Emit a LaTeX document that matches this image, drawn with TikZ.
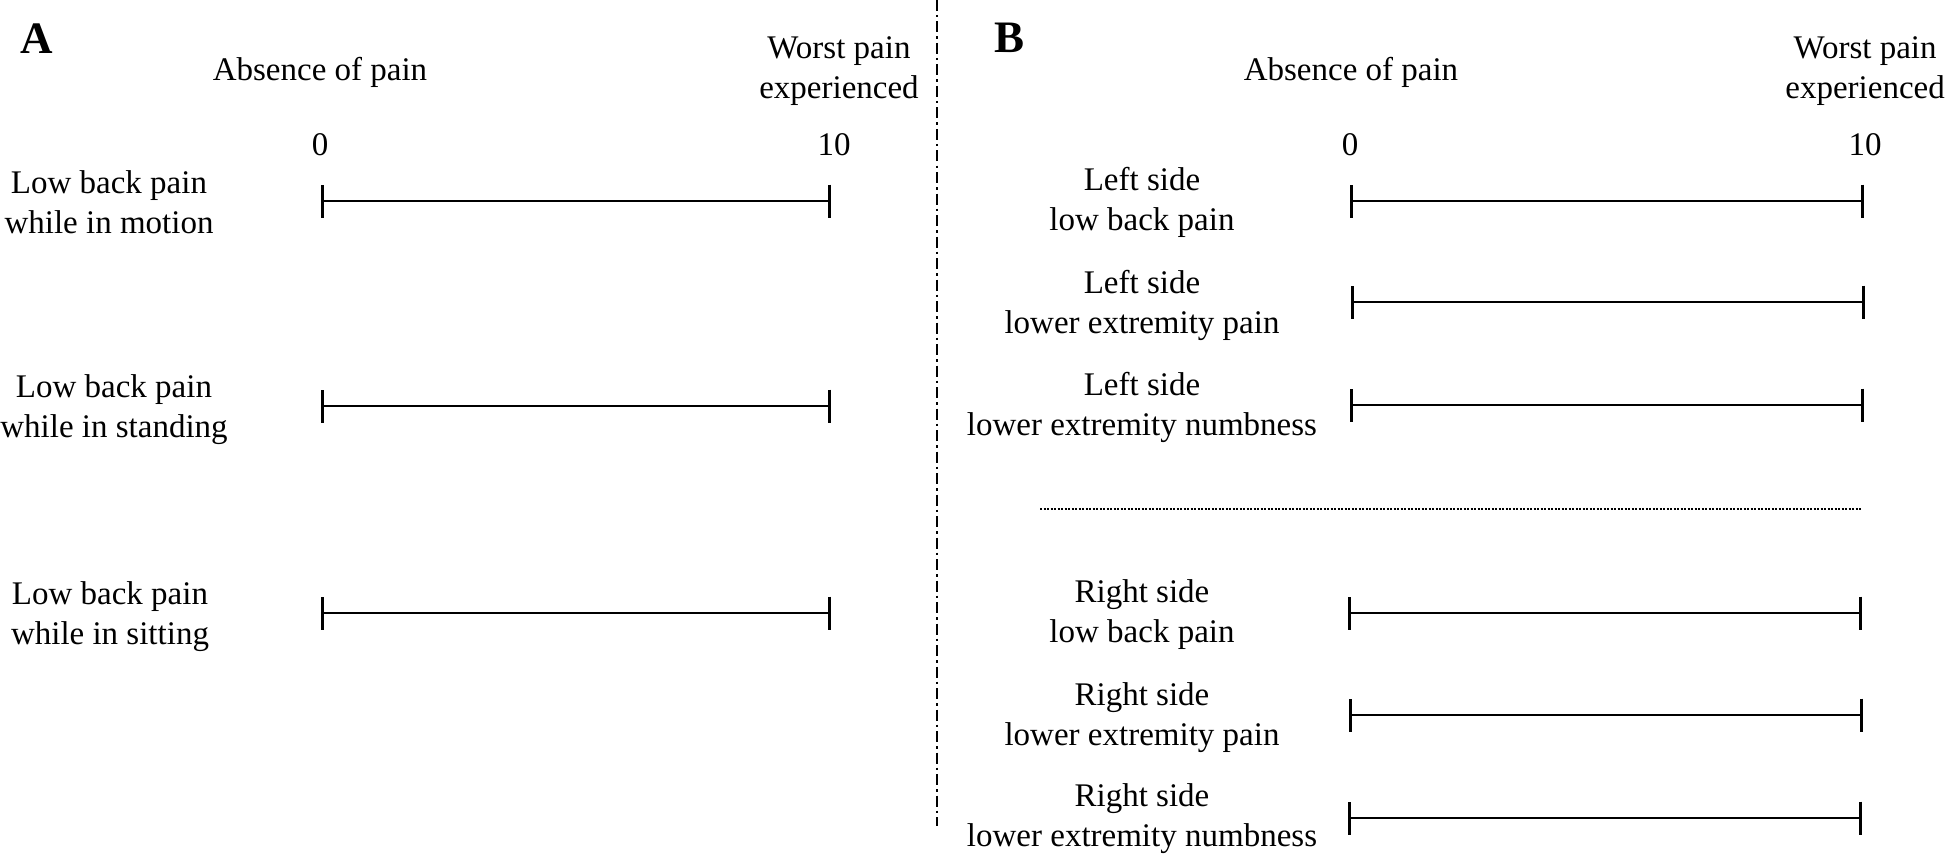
\documentclass[tikz,border=0pt]{standalone}
\usepackage{fontspec}
\setmainfont{Liberation Serif}
\usetikzlibrary{arrows.meta}
\begin{document}
\begin{tikzpicture}[x=1pt,y=-1pt,
  txt/.style={font=\fontsize{33}{40}\selectfont, align=center, inner sep=0pt},
  panel/.style={font=\fontsize{45}{45}\selectfont\bfseries, inner sep=0pt},
  vas/.style={line width=2.7pt, {Bar[width=33pt,line width=2.6pt]}-{Bar[width=33pt,line width=2.6pt]}},
  divider/.style={line width=2.3pt, dash pattern=on 11pt off 4pt on 2.5pt off 4pt},
  sep/.style={line width=1.4pt, dash pattern=on 2pt off 1.5pt}]
\useasboundingbox (0,0) rectangle (1946,856);
% panel A
\node[panel] (A) at (37,39) {A};
\node[txt] (absA) at (320,72) {Absence of pain};
\node[txt] (worstA) at (839,71) {Worst pain\\experienced};
\node[txt] (zeroA) at (320,145) {0};
\node[txt] (tenA) at (834,145) {10};
\node[txt] (a1) at (109,202) {Low back pain\\while in motion};
\node[txt] (a2) at (114,410) {Low back pain\\while in standing};
\node[txt] (a3) at (110,617) {Low back pain\\while in sitting};
\coordinate (a1l) at (321,201); \coordinate (a1r) at (831,201);
\coordinate (a2l) at (321,406); \coordinate (a2r) at (831,406);
\coordinate (a3l) at (321,613); \coordinate (a3r) at (831,613);
\draw[vas] (a1l) -- (a1r);
\draw[vas] (a2l) -- (a2r);
\draw[vas] (a3l) -- (a3r);
% divider
\coordinate (dtop) at (937,0); \coordinate (dbot) at (937,826);
\draw[divider] (dtop) -- (dbot);
% panel B
\node[panel] (B) at (1009,38) {B};
\node[txt] (absB) at (1351,72) {Absence of pain};
\node[txt, anchor=east] (worstB) at (1945,71) {Worst pain\\experienced};
\node[txt] (zeroB) at (1350,145) {0};
\node[txt] (tenB) at (1865,145) {10};
\node[txt] (b1) at (1142,202) {Left side\\low back pain};
\node[txt] (b2) at (1142,305) {Left side\\lower extremity pain};
\node[txt] (b3) at (1142,407) {Left side\\lower extremity numbness};
\node[txt] (b4) at (1142,615) {Right side\\low back pain};
\node[txt] (b5) at (1142,718) {Right side\\lower extremity pain};
\node[txt] (b6) at (1142,819) {Right side\\lower extremity numbness};
\coordinate (b1l) at (1350,201); \coordinate (b1r) at (1864,201);
\coordinate (b2l) at (1351,302); \coordinate (b2r) at (1865,302);
\coordinate (b3l) at (1350,405); \coordinate (b3r) at (1864,405);
\coordinate (b4l) at (1348,613); \coordinate (b4r) at (1862,613);
\coordinate (b5l) at (1349,715); \coordinate (b5r) at (1863,715);
\coordinate (b6l) at (1348,818); \coordinate (b6r) at (1862,818);
\foreach \i in {1,...,6}{\draw[vas] (b\i l) -- (b\i r);}
\coordinate (sl) at (1040,509); \coordinate (sr) at (1862,509);
\draw[sep] (sl) -- (sr);
\end{tikzpicture}
\end{document}
